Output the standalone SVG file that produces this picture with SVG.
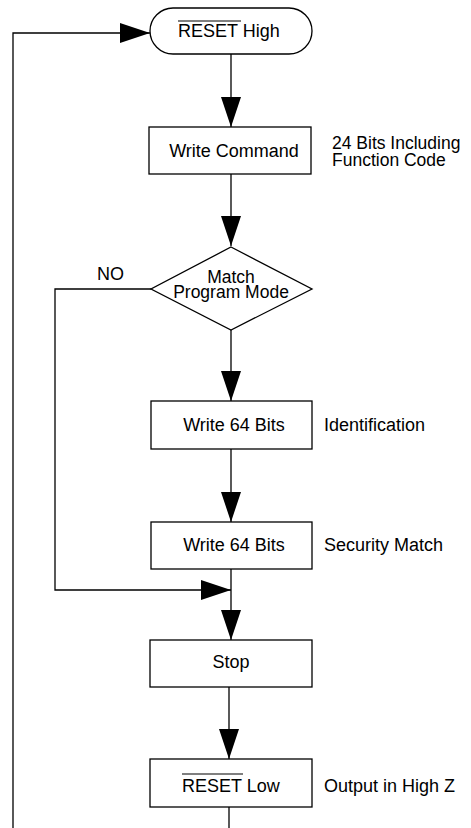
<svg xmlns="http://www.w3.org/2000/svg" width="471" height="828" viewBox="0 0 471 828">
<style>
.n{fill:#fff;stroke:#000;stroke-width:1.3}
.c{fill:none;stroke:#000;stroke-width:1.3}
.t{font-family:"Liberation Sans",Arial,sans-serif;font-size:18px;fill:#000}
.s{font-size:17.5px}
.m{text-anchor:middle}
.o{stroke:#000;stroke-width:1.2}
</style>
<defs>
<marker id="ah" markerUnits="userSpaceOnUse" markerWidth="31" markerHeight="20" refX="30" refY="10" orient="auto" viewBox="0 0 31 20">
<path d="M0,0 L30,10 L0,20 z" fill="#000"/>
</marker>
</defs>
<rect width="471" height="828" fill="#fff"/>
<g id="connectors">
<path class="c" d="M13,828 V33 H150" marker-end="url(#ah)"/>
<path class="c" d="M231,54 V127" marker-end="url(#ah)"/>
<path class="c" d="M231,174 V246" marker-end="url(#ah)"/>
<path class="c" d="M231,330 V401" marker-end="url(#ah)"/>
<path class="c" d="M231,449 V522" marker-end="url(#ah)"/>
<path class="c" d="M231,569 V640" marker-end="url(#ah)"/>
<path class="c" d="M151,289 H55 V590 H231" marker-end="url(#ah)"/>
<path class="c" d="M229,687 V759" marker-end="url(#ah)"/>
<path class="c" d="M229,807 V828"/>
<text class="t" x="97" y="280">NO</text>
</g>
<g id="reset-high">
<rect class="n" x="150" y="8" width="162" height="46" rx="23" ry="23"/>
<text class="t" x="178" y="37">RESET High</text>
<line class="o" x1="178" y1="21" x2="241" y2="21"/>
</g>
<g id="write-command">
<rect class="n" x="149" y="127" width="162" height="47"/>
<text class="t m" x="234" y="157">Write Command</text>
<text class="t s" x="332" y="149">24 Bits Including</text>
<text class="t s" x="332" y="166">Function Code</text>
</g>
<g id="match-program-mode">
<polygon class="n" points="231,247 312,289 231,330 151,289"/>
<text class="t s m" x="231" y="283">Match</text>
<text class="t s m" x="231" y="298">Program Mode</text>
</g>
<g id="write-64-id">
<rect class="n" x="151" y="401" width="161" height="48"/>
<text class="t m" x="234" y="431">Write 64 Bits</text>
<text class="t" x="324" y="431">Identification</text>
</g>
<g id="write-64-sec">
<rect class="n" x="151" y="522" width="161" height="47"/>
<text class="t m" x="234" y="551">Write 64 Bits</text>
<text class="t" x="324" y="551">Security Match</text>
</g>
<g id="stop">
<rect class="n" x="150" y="640" width="162" height="47"/>
<text class="t m" x="231" y="668">Stop</text>
</g>
<g id="reset-low">
<rect class="n" x="150" y="759" width="162" height="48"/>
<text class="t" x="182" y="792">RESET Low</text>
<line class="o" x1="182" y1="774" x2="243" y2="774"/>
<text class="t" x="324" y="792">Output in High Z</text>
</g>
</svg>
